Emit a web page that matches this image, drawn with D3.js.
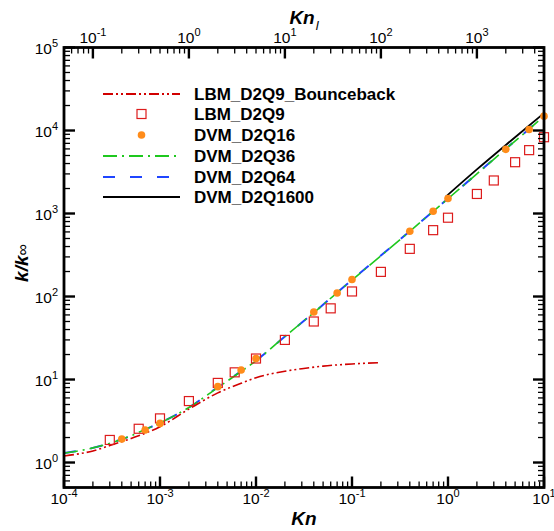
<!DOCTYPE html>
<html>
<head>
<meta charset="utf-8">
<script src="https://cdn.jsdelivr.net/npm/d3@7"></script>
<style>
  body { margin: 0; background: #fff; }
  text { font-family: "Liberation Sans", Arial, Helvetica, sans-serif; }
</style>
</head>
<body>
<div id="chart"></div>
<script>
// Kn values and k/kinf
var bounceKn  = [1e-4, 2e-4, 3e-4, 5e-4, 1e-3, 2e-3, 4e-3, 7e-3, 1e-2, 2e-2, 3e-2, 5e-2, 0.1, 0.2];
var bounceVal = [1.2, 1.38, 1.6, 1.95, 2.7, 4.4, 6.9, 9.0, 10.5, 12.6, 13.5, 14.5, 15.4, 16.0];

var lbmKn  = [3e-4, 6e-4, 1e-3, 2e-3, 4e-3, 6e-3, 1e-2, 2e-2, 4e-2, 6e-2, 0.1, 0.2, 0.4, 0.7, 1, 2, 3, 5, 7, 10];
var lbmVal = [1.87, 2.55, 3.4, 5.5, 9.1, 12.2, 17.9, 30, 50, 72, 115, 198, 375, 630, 890, 1720, 2500, 4150, 5800, 8300];

var dvm16Kn  = [4e-4, 7e-4, 1e-3, 4e-3, 7e-3, 1e-2, 4e-2, 7e-2, 0.1, 0.4, 0.7, 1, 4, 7, 10];
var dvm16Val = [1.92, 2.46, 2.96, 8.2, 13, 17.9, 65, 110, 160, 611, 1064, 1515, 5930, 10300, 14900];

var dvm36Kn  = [1e-4, 2e-4, 3e-4, 5e-4, 7e-4, 1e-3, 2e-3, 4e-3, 7e-3, 1e-2, 2e-2, 4e-2, 0.1, 0.2, 0.4, 0.7, 1, 2, 4, 7, 10];
var dvm36Val = [1.29, 1.5, 1.7, 2.1, 2.5, 3.0, 4.6, 8.0, 12.5, 16.8, 33, 64, 158, 310, 610, 1060, 1510, 3000, 6000, 10400, 15000];

var dvm64Kn  = [1e-4, 2e-4, 3e-4, 5e-4, 7e-4, 1e-3, 2e-3, 4e-3, 7e-3, 1e-2, 2e-2, 4e-2, 0.1, 0.2, 0.4, 0.7, 1, 2, 4, 7, 10];
var dvm64Val = [1.3, 1.5, 1.71, 2.1, 2.5, 3.0, 4.6, 8.1, 12.6, 16.9, 33, 64, 159, 312, 612, 1065, 1515, 3010, 6020, 10450, 15100];

var dvm1600Kn  = [0.95, 2, 5, 10];
var dvm1600Val = [1600, 3400, 8300, 16200];

var legendNames = ["LBM_D2Q9_Bounceback", "LBM_D2Q9", "DVM_D2Q16", "DVM_D2Q36", "DVM_D2Q64", "DVM_D2Q1600"];

var W = 554, H = 531;
var pLeft = 64, pRight = 544, pTop = 47.5, pBottom = 487.5;

var svg = d3.select("#chart").append("svg").attr("width", W).attr("height", H);

var x = d3.scaleLog().domain([1e-4, 10]).range([pLeft, pRight]);
var xTop = d3.scaleLog().domain([0.05, 5000]).range([pLeft, pRight]);   // Kn_l = 500 Kn
var y = d3.scaleLog().domain([0.5, 1e5]).range([pBottom, pTop]);

function zip(a, b) { return a.map(function(d, i) { return [d, b[i]]; }); }

var line = d3.line()
    .x(function(d) { return x(d[0]); })
    .y(function(d) { return y(d[1]); })
    .curve(d3.curveMonotoneX);

var plot = svg.append("g");

plot.append("path").datum(zip(dvm64Kn, dvm64Val))
    .attr("d", line).attr("fill", "none")
    .attr("stroke", "#1f45ff").attr("stroke-width", 2).attr("stroke-dasharray", "12,15");
plot.append("path").datum(zip(dvm36Kn, dvm36Val))
    .attr("d", line).attr("fill", "none")
    .attr("stroke", "#1ec81e").attr("stroke-width", 1.6).attr("stroke-dasharray", "14,5,2,5");
plot.append("path").datum(zip(dvm1600Kn, dvm1600Val))
    .attr("d", line).attr("fill", "none")
    .attr("stroke", "#000").attr("stroke-width", 1.8);
plot.append("path").datum(zip(bounceKn, bounceVal))
    .attr("d", line).attr("fill", "none")
    .attr("stroke", "#d10000").attr("stroke-width", 1.6).attr("stroke-dasharray", "10,3,2,3,2,3");

plot.selectAll("rect.lbm").data(zip(lbmKn, lbmVal)).enter().append("rect")
    .attr("class", "lbm")
    .attr("x", function(d) { return x(d[0]) - 4.5; })
    .attr("y", function(d) { return y(d[1]) - 4.5; })
    .attr("width", 9).attr("height", 9)
    .attr("fill", "none").attr("stroke", "#dd1c1c").attr("stroke-width", 1.2);

plot.selectAll("circle.dvm").data(zip(dvm16Kn, dvm16Val)).enter().append("circle")
    .attr("class", "dvm")
    .attr("cx", function(d) { return x(d[0]); })
    .attr("cy", function(d) { return y(d[1]); })
    .attr("r", 3.8).attr("fill", "#ff8c1a");

// frame
svg.append("rect").attr("x", pLeft).attr("y", pTop)
    .attr("width", pRight - pLeft).attr("height", pBottom - pTop)
    .attr("fill", "none").attr("stroke", "#000").attr("stroke-width", 2.8);

function isMajor(v) { return Math.abs(Math.log10(v) - Math.round(Math.log10(v))) < 1e-6; }

// ticks on all four sides, pointing inward
var ax = svg.append("g").attr("stroke", "#000");
x.ticks().forEach(function(v) {
    var m = isMajor(v), len = m ? 11 : 6;
    ax.append("line").attr("x1", x(v)).attr("x2", x(v)).attr("y1", pBottom).attr("y2", pBottom - len)
        .attr("stroke-width", m ? 2.4 : 1.3);
});
xTop.ticks().forEach(function(v) {
    var m = isMajor(v), len = m ? 11 : 6;
    ax.append("line").attr("x1", xTop(v)).attr("x2", xTop(v)).attr("y1", pTop).attr("y2", pTop + len)
        .attr("stroke-width", m ? 2.4 : 1.3);
});
y.ticks().forEach(function(v) {
    var m = isMajor(v), len = m ? 11 : 6;
    ax.append("line").attr("y1", y(v)).attr("y2", y(v)).attr("x1", pLeft).attr("x2", pLeft + len)
        .attr("stroke-width", m ? 2.4 : 1.3);
    ax.append("line").attr("y1", y(v)).attr("y2", y(v)).attr("x1", pRight).attr("x2", pRight - len)
        .attr("stroke-width", m ? 2.4 : 1.3);
});

function powLabel(g, px, py, e, anchor) {
    var t = g.append("text").attr("x", px).attr("y", py).attr("text-anchor", anchor)
        .attr("font-size", 15.5).attr("fill", "#000");
    t.append("tspan").text("10");
    t.append("tspan").attr("font-size", 11).attr("dy", -7).text(e);
}

var labels = svg.append("g");
x.ticks().filter(isMajor).forEach(function(v) {
    powLabel(labels, x(v), 504, Math.round(Math.log10(v)), "middle");
});
xTop.ticks().filter(isMajor).forEach(function(v) {
    powLabel(labels, xTop(v), 43, Math.round(Math.log10(v)), "middle");
});
y.ticks().filter(isMajor).forEach(function(v) {
    powLabel(labels, 58, y(v) + 6, Math.round(Math.log10(v)), "end");
});

// axis titles
svg.append("text").attr("x", 304).attr("y", 525).attr("text-anchor", "middle")
    .attr("font-size", 19).attr("font-weight", "bold").attr("font-style", "italic").text("Kn");
var tt = svg.append("text").attr("x", 304).attr("y", 24).attr("text-anchor", "middle")
    .attr("font-size", 19).attr("font-weight", "bold").attr("font-style", "italic");
tt.append("tspan").text("Kn");
tt.append("tspan").attr("font-size", 13).attr("dx", 1).attr("dy", 6).attr("font-weight", "normal").text("l");
var yt = svg.append("text").attr("transform", "translate(28,263) rotate(-90)")
    .attr("text-anchor", "middle").attr("font-size", 19);
yt.append("tspan").attr("font-weight", "bold").attr("font-style", "italic").text("k/k");
yt.append("tspan").attr("font-size", 16).text("∞");

// legend
var rowY = [94, 114, 135, 156, 177, 197];
var lg = svg.append("g");
var styles = [
    {stroke: "#d10000", dash: "10,3,2,3,2,3"},
    null, null,
    {stroke: "#1ec81e", dash: "14,5,2,5"},
    {stroke: "#1f45ff", dash: "12,15"},
    {stroke: "#000", dash: null}
];
legendNames.forEach(function(name, i) {
    var ry = rowY[i];
    if (i == 1) {
        lg.append("rect").attr("x", 137).attr("y", ry - 4.5).attr("width", 9).attr("height", 9)
            .attr("fill", "none").attr("stroke", "#dd1c1c").attr("stroke-width", 1.2);
    } else if (i == 2) {
        lg.append("circle").attr("cx", 141.5).attr("cy", ry).attr("r", 3.8).attr("fill", "#ff8c1a");
    } else {
        lg.append("line").attr("x1", 103).attr("x2", 180).attr("y1", ry).attr("y2", ry)
            .attr("stroke", styles[i].stroke).attr("stroke-width", 1.8)
            .attr("stroke-dasharray", styles[i].dash);
    }
    lg.append("text").attr("x", 194).attr("y", ry + 6).attr("font-size", 17)
        .attr("font-weight", "bold").text(name);
});
</script>
</body>
</html>
